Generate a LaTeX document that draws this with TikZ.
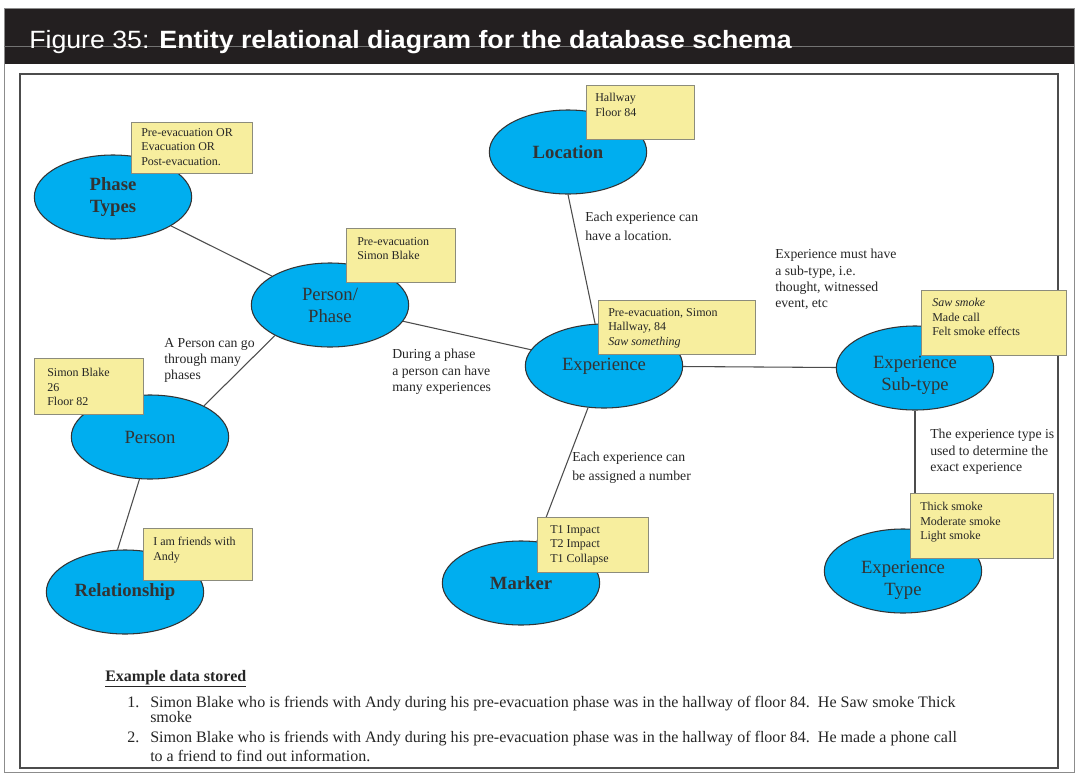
\documentclass[tikz,border=0pt]{standalone}
\usepackage{graphicx}
\usepackage{fontspec}
\setmainfont{Liberation Serif}
\newfontfamily\hfont{Liberation Sans}
\usetikzlibrary{shapes.geometric}
\definecolor{ecyan}{HTML}{00AEEF}
\definecolor{byellow}{HTML}{F7EE9E}
\definecolor{bborder}{HTML}{8C8C7C}
\definecolor{hdark}{HTML}{231F20}
\definecolor{etext}{HTML}{333333}
\tikzset{
  ent/.style={ellipse, draw=black!80, line width=0.8pt, fill=ecyan,
    minimum width=118pt, minimum height=63pt, inner sep=0pt,
    font=\fontsize{14}{16.5}\selectfont, text=etext, align=center},
  entb/.style={ent, font=\fontsize{14}{16.5}\selectfont\bfseries},
  enttext/.style={inner sep=0pt, font=\fontsize{14}{16.5}\selectfont, text=etext, align=center},
  ybox/.style={rectangle, draw=bborder, line width=1.1pt, fill=byellow,
    inner sep=0pt, anchor=north west},
  boxtext/.style={anchor=north west, inner sep=0pt, align=left,
    font=\fontsize{9}{11}\selectfont, text=black!85},
  note/.style={anchor=north west, inner sep=0pt, align=left,
    font=\fontsize{10.3}{12.2}\selectfont, text=black!85},
  notewide/.style={note, font=\fontsize{10.3}{14.25}\selectfont},
  link/.style={draw=black!70, line width=0.8pt},
  exline/.style={anchor=base west, inner sep=0pt, font=\fontsize{12}{14}\selectfont, text=black!85},
}
\begin{document}
\begin{tikzpicture}[x=0.75pt,y=-0.75pt]
\useasboundingbox (0,0) rectangle (1076,775);
\fill[white] (0,0) rectangle (1076,775);
% header
\fill[hdark] (4,8) rectangle (1074,64);
\draw[black!45, line width=0.5pt] (4,8) rectangle (1074,772);
\draw[black!55, line width=0.6pt] (4,46.5) -- (1074,46.5);
\draw[black!70, line width=1.5pt] (20,74) rectangle (1058,768);
\node[anchor=base west, inner sep=0pt, text=white, font=\hfont\fontsize{18.75}{20}\selectfont] (title) at (29,48)
  {\resizebox{572pt}{\height}{Figure 35: \textbf{Entity relational diagram for the database schema}}};

% entities
\node[entb] (ptypes) at (113,197) {Phase\\Types};
\node[ent]  (pphase) at (330,305) {Person/\\Phase};
\node[entb] (loc)    at (568,152) {Location};
\node[ent]  (exp)    at (604,366) {Experience};
\node[ent]  (sub)    at (915,368) {};
\node[enttext] (subtxt) at (915,375) {Experience\\Sub-type};
\node[ent]  (person) at (150,437) {Person};
\node[entb] (rel)    at (125,592) {Relationship};
\node[entb] (marker) at (521,583) {Marker};
\node[ent]  (etype)  at (903,571) {};
\node[enttext] (etypetxt) at (903,580) {Experience\\Type};

% connectors
\draw[link] (ptypes) -- (pphase);
\draw[link] (pphase) -- (exp);
\draw[link] (pphase.209) -- (person.30);
\draw[link] (person.256) -- (rel.100);
\draw[link] (loc.south) -- (exp);
\draw[link] (exp) -- (sub);
\draw[link] (exp) -- (marker);
\draw[link] (sub.south) -- (sub.south |- etype.north);

% example boxes
\node[ybox, minimum width=90.75pt, minimum height=38.25pt] (bpt) at (131,122) {};
\node[boxtext] (tpt) at (141,128) {Pre-evacuation OR\\Evacuation OR\\Post-evacuation.};
\node[ybox, minimum width=81.75pt, minimum height=40.5pt] (bpp) at (346,228) {};
\node[boxtext] (tpp) at (357,237) {Pre-evacuation\\Simon Blake};
\node[ybox, minimum width=81pt, minimum height=40.5pt] (bloc) at (586,85) {};
\node[boxtext] (tloc) at (595,93) {Hallway\\Floor 84};
\node[ybox, minimum width=117.75pt, minimum height=40.5pt] (bexp) at (598,300) {};
\node[boxtext] (texp) at (608,308) {Pre-evacuation, Simon\\Hallway, 84\\\textit{Saw something}};
\node[ybox, minimum width=108.75pt, minimum height=48.75pt] (bsub) at (921,290) {};
\node[boxtext] (tsub) at (932,298) {\textit{Saw smoke}\\Made call\\Felt smoke effects};
\node[ybox, minimum width=81.75pt, minimum height=42pt] (bper) at (34,358) {};
\node[boxtext] (tper) at (47,368) {Simon Blake\\26\\Floor 82};
\node[ybox, minimum width=81.75pt, minimum height=39pt] (brel) at (143,528) {};
\node[boxtext] (trel) at (153,537) {I am friends with\\Andy};
\node[ybox, minimum width=83.25pt, minimum height=41.25pt] (bmar) at (537,517) {};
\node[boxtext] (tmar) at (550,525) {T1 Impact\\T2 Impact\\T1 Collapse};
\node[ybox, minimum width=107.25pt, minimum height=48.75pt] (bet) at (910,493) {};
\node[boxtext] (tet) at (920,502) {Thick smoke\\Moderate smoke\\Light smoke};

% relationship notes
\node[notewide] (lloc) at (585,212) {Each experience can\\have a location.};
\node[note] (lsub) at (775,249) {Experience must have\\a sub-type, i.e.\\thought, witnessed\\event, etc};
\node[note] (lper) at (164,338) {A Person can go\\through many\\phases};
\node[note] (lexp) at (392,349) {During a phase\\a person can have\\many experiences};
\node[notewide] (lmar) at (572,452) {Each experience can\\be assigned a number};
\node[note] (let) at (930,429) {The experience type is\\used to determine the\\exact experience};

% example data
\node[exline] (ex0) at (105,681) {\textbf{\underline{Example data stored}}};
\node[exline] (n1) at (127,707) {1.};
\node[exline] (ex1a) at (150,707) {\resizebox{604pt}{\height}{Simon Blake who is friends with Andy during his pre-evacuation phase was in the hallway of floor 84.\ \ He Saw smoke Thick}};
\node[exline] (ex1b) at (150,722) {smoke};
\node[exline] (n2) at (127,742) {2.};
\node[exline] (ex2a) at (150,742) {\resizebox{605pt}{\height}{Simon Blake who is friends with Andy during his pre-evacuation phase was in the hallway of floor 84.\ \ He made a phone call}};
\node[exline] (ex2b) at (150,761) {to a friend to find out information.};
\end{tikzpicture}
\end{document}
